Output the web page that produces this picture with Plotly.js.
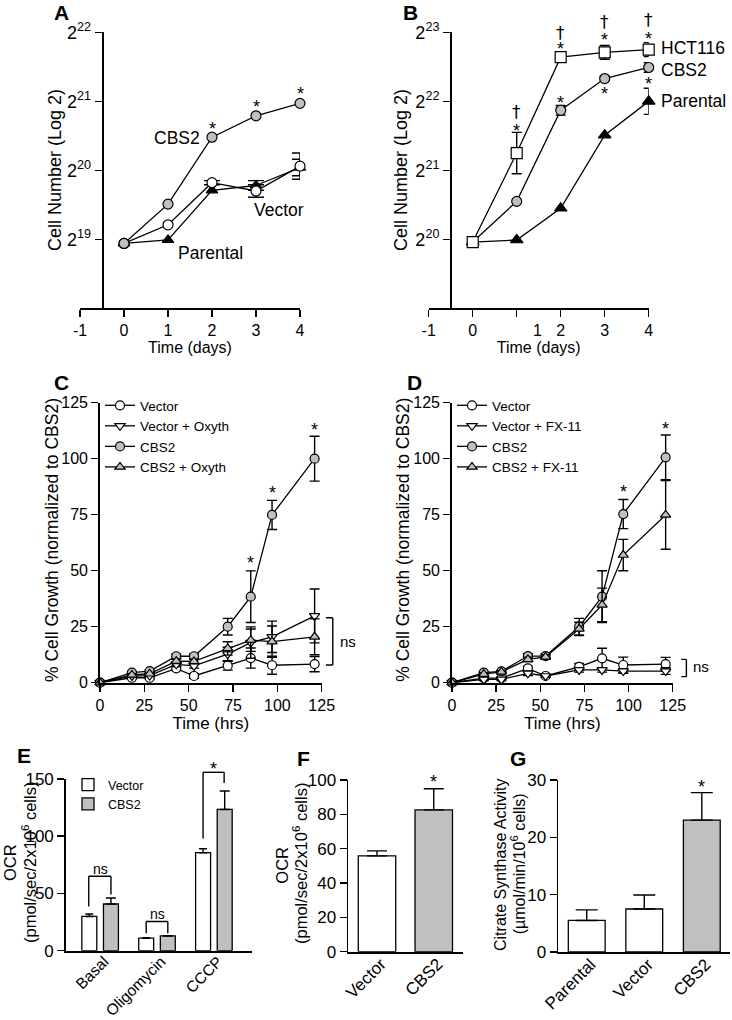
<!DOCTYPE html>
<html><head><meta charset="utf-8">
<script src="https://cdn.plot.ly/plotly-3.0.1.min.js"></script>
<style>html,body{margin:0;padding:0;background:#fff}#chart{width:732px;height:1020px}</style>
</head><body><div id="chart"></div>
<script>
// ================= DATA =================
// Panel A (values are log2 of cell number)
const daysA = [0, 1, 2, 3, 4];
const A_CBS2 = [18.94, 19.51, 20.48, 20.79, 20.97];
const A_Vector = [18.94, 19.21, 19.82, 19.70, 20.06];
const A_VectorErr = [0, 0, 0.03, 0.09, 0.19];
const A_Parental = [18.94, 18.99, 19.71, 19.78, 20.04];
const A_ParentalErr = [0, 0, 0, 0.07, 0.12];
const A_logTicks = [19, 20, 21, 22];

// Panel B
const daysB = [0, 1, 2, 3, 4];
const B_HCT116 = [19.96, 21.25, 22.64, 22.71, 22.75];
const B_HCT116Err = [0.04, 0.30, 0.03, 0.10, 0.10];
const B_CBS2 = [19.96, 20.55, 21.87, 22.33, 22.49];
const B_CBS2Err = [0, 0, 0.07, 0.03, 0.07];
const B_Parental = [19.96, 19.99, 20.45, 21.51, 22.00];
const B_ParentalErr = [0, 0, 0, 0, 0.19];
const B_logTicks = [20, 21, 22, 23];

const dayTicks = [-1, 0, 1, 2, 3, 4];
const dayTickTextA = ['-1', '0', '1', '2', '3', '4'];
const dayTickTextB = ['-1', '0', '', '2', '3', '4']; // "1" is printed off-tick in the original
const dayLabelB1 = {x: 1.48, text: '1'};

// Panels C and D (% growth normalized to CBS2)
const hrs = [0, 18, 28, 43, 53, 72, 85, 97, 121];
const hrTicks = [0, 25, 50, 75, 100, 125];
const C_Vector = [0, 2.2, 2.2, 6.4, 3.0, 7.6, 11.0, 7.8, 8.3];
const C_VectorErr = [0, 0.5, 0.5, 1, 1, 2, 4.5, 4, 3.4];
const C_VecOxy = [0, 3.0, 3.2, 8.2, 7.5, 12.8, 17.9, 20.5, 29.8];
const C_VecOxyErr = [0, 0.5, 0.5, 1, 1, 3, 7, 7, 12];
const C_CBS2 = [0, 4.5, 5.2, 11.8, 11.8, 25, 38.4, 74.9, 100];
const C_CBS2Err = [0, 0.5, 0.5, 1, 1, 3.7, 11.5, 6.5, 10];
const C_CBS2Oxy = [0, 3.5, 4.0, 9.6, 9.5, 15.3, 19.0, 18.3, 20.5];
const C_CBS2OxyErr = [0, 0.5, 0.5, 1, 1, 3, 5, 7, 8];

const D_Vector = [0, 2.0, 2.0, 6.4, 3.0, 7.1, 10.9, 7.9, 8.3];
const D_VectorErr = [0, 0.5, 0.5, 1, 0.5, 1.5, 4.5, 3.5, 3];
const D_VecFX = [0, 1.5, 1.5, 4.2, 3.0, 5.7, 5.7, 5.2, 5.2];
const D_VecFXErr = [0, 0.5, 0.5, 1, 0.5, 1, 1, 1, 1.5];
const D_CBS2 = [0, 4.5, 5.1, 11.9, 11.9, 25, 38.4, 75.3, 100.6];
const D_CBS2Err = [0, 0.5, 0.5, 1, 1, 3.7, 11.6, 6.5, 10];
const D_CBS2FX = [0, 3.8, 4.8, 10.4, 11.5, 24, 34.7, 57, 74.9];
const D_CBS2FXErr = [0, 0.5, 0.5, 1, 1, 3, 7.5, 7, 15.3];

// Panel E (OCR)
const E_cats = ['Basal', 'Oligomycin', 'CCCP'];
const E_Vector = [29.9, 10.9, 85.6];
const E_VectorErr = [2.1, 0.5, 3.5];
const E_CBS2 = [40.8, 12.9, 123.4];
const E_CBS2Err = [5.2, 0.3, 16.1];

// Panel F (OCR)
const F_cats = ['Vector', 'CBS2'];
const F_vals = [55.8, 82.6];
const F_err = [2.9, 12.3];

// Panel G (citrate synthase)
const G_cats = ['Parental', 'Vector', 'CBS2'];
const G_vals = [5.5, 7.5, 23.0];
const G_err = [1.85, 2.45, 4.8];

// ================= STYLE =================
const W = 732, H = 1020;
const FONT = 'Liberation Sans, Arial, Helvetica, sans-serif';
const GRAY = '#c0c0c0';
const px = v => v / W;
const py = v => 1 - v / H;
const nanZero = a => a.map(v => v === 0 ? NaN : v);

function sc(x, y, err, symbol, fill, xa, ya, name, legend, errW, size) {
  return {
    type: 'scatter', mode: 'lines+markers', x: x, y: y, name: name,
    xaxis: xa, yaxis: ya, cliponaxis: false,
    showlegend: !!legend, legend: legend || 'legend',
    line: {color: '#000', width: 1.3},
    marker: {symbol: symbol, size: size || 9, color: fill, line: {color: '#000', width: 1.2}},
    error_y: {type: 'data', array: nanZero(err), visible: true, color: '#000', thickness: 1.4, width: errW || 4}
  };
}
function bar(x, y, err, colors, xa, ya, width, offset, name, legend, errW) {
  const t = {
    type: 'bar', x: x, y: y, name: name, xaxis: xa, yaxis: ya, width: width,
    showlegend: !!legend, legend: legend || 'legend',
    marker: {color: colors, line: {color: '#000', width: 1.3}},
    error_y: {type: 'data', symmetric: false, array: err, arrayminus: err.map(() => 0),
              visible: true, color: '#000', thickness: 1.4, width: errW}
  };
  if (offset !== undefined) t.offset = offset;
  return t;
}

const traces = [
  // A
  sc(daysA, A_Parental, A_ParentalErr, 'triangle-up', '#000', 'x', 'y', 'Parental', null, 8, 10),
  sc(daysA, A_Vector, A_VectorErr, 'circle', '#fff', 'x', 'y', 'Vector', null, 8, 10),
  sc(daysA, A_CBS2, [0,0,0,0,0], 'circle', GRAY, 'x', 'y', 'CBS2', null, 8, 10),
  // B
  sc(daysB, B_Parental, B_ParentalErr, 'triangle-up', '#000', 'x2', 'y2', 'Parental', null, 5, 11),
  sc(daysB, B_CBS2, B_CBS2Err, 'circle', GRAY, 'x2', 'y2', 'CBS2', null, 5, 10),
  sc(daysB, B_HCT116, B_HCT116Err, 'square', '#fff', 'x2', 'y2', 'HCT116', null, 5, 11),
  // C
  sc(hrs, C_Vector, C_VectorErr, 'circle', '#fff', 'x3', 'y3', 'Vector', 'legend', 5, 9),
  sc(hrs, C_VecOxy, C_VecOxyErr, 'triangle-down', '#fff', 'x3', 'y3', 'Vector + Oxyth', 'legend', 5, 9),
  sc(hrs, C_CBS2, C_CBS2Err, 'circle', GRAY, 'x3', 'y3', 'CBS2', 'legend', 5, 9),
  sc(hrs, C_CBS2Oxy, C_CBS2OxyErr, 'triangle-up', GRAY, 'x3', 'y3', 'CBS2 + Oxyth', 'legend', 5, 9),
  // D
  sc(hrs, D_Vector, D_VectorErr, 'circle', '#fff', 'x4', 'y4', 'Vector', 'legend2', 5, 9),
  sc(hrs, D_VecFX, D_VecFXErr, 'triangle-down', '#fff', 'x4', 'y4', 'Vector + FX-11', 'legend2', 5, 9),
  sc(hrs, D_CBS2, D_CBS2Err, 'circle', GRAY, 'x4', 'y4', 'CBS2', 'legend2', 5, 9),
  sc(hrs, D_CBS2FX, D_CBS2FXErr, 'triangle-up', GRAY, 'x4', 'y4', 'CBS2 + FX-11', 'legend2', 5, 9),
  // E
  bar(E_cats, E_Vector, E_VectorErr, '#fff', 'x5', 'y5', 0.263, -0.3215, 'Vector', 'legend3', 4),
  bar(E_cats, E_CBS2, E_CBS2Err, GRAY, 'x5', 'y5', 0.263, 0.0585, 'CBS2', 'legend3', 5),
  // F
  bar(F_cats, F_vals, F_err, ['#fff', GRAY], 'x6', 'y6', 0.66, undefined, 'OCR', null, 10),
  // G
  bar(G_cats, G_vals, G_err, ['#fff', '#fff', GRAY], 'x7', 'y7', 0.64, undefined, 'CS', null, 11)
];

function axis(extra) {
  return Object.assign({
    showline: true, linecolor: '#000', linewidth: 1.8,
    ticks: 'outside', ticklen: 7, tickwidth: 1.5, tickcolor: '#000',
    showgrid: false, zeroline: false, fixedrange: true,
    tickfont: {family: FONT, size: 16, color: '#000'}
  }, extra);
}
function ttl(text, size, standoff) {
  return {text: text, font: {family: FONT, size: size, color: '#000'}, standoff: standoff};
}
const supText = v => '2<sup>' + v + '</sup>';
const catAxis = (dom, rng, anchor, cats, fs) => axis({domain: dom, range: rng, anchor: anchor, type: 'category',
    categoryorder: 'array', categoryarray: cats, ticks: '', ticklen: 0, tickangle: -45,
    ticklabelstandoff: -6, ticklabelshift: 4,
    tickfont: {family: FONT, size: fs || 17, color: '#000'}});

const layout = {
  width: W, height: H, margin: {l: 0, r: 0, t: 0, b: 0},
  paper_bgcolor: '#fff', plot_bgcolor: 'rgba(0,0,0,0)',
  font: {family: FONT, color: '#000'},
  barmode: 'overlay', showlegend: true,
  // A
  xaxis: axis({domain: [px(80), px(300)], range: [-1, 4], anchor: 'y',
    tickmode: 'array', tickvals: dayTicks, ticktext: dayTickTextA, title: ttl('Time (days)', 16, 1)}),
  yaxis: axis({domain: [py(308.3), py(32.3)], range: [18, 22], anchor: 'free', position: px(101.7),
    tickmode: 'array', tickvals: A_logTicks, ticktext: A_logTicks.map(supText),
    tickfont: {family: FONT, size: 18, color: '#000'}}),
  // B
  xaxis2: axis({domain: [px(428.7), px(648.7)], range: [-1, 4], anchor: 'y2',
    tickmode: 'array', tickvals: dayTicks, ticktext: dayTickTextB, title: ttl('Time (days)', 16, 1)}),
  yaxis2: axis({domain: [py(308.3), py(32.3)], range: [19, 23], anchor: 'free', position: px(450),
    tickmode: 'array', tickvals: B_logTicks, ticktext: B_logTicks.map(supText),
    tickfont: {family: FONT, size: 18, color: '#000'}}),
  // C
  xaxis3: axis({domain: [px(100), px(321.7)], range: [0, 125], anchor: 'y3',
    tickmode: 'array', tickvals: hrTicks, title: ttl('Time (hrs)', 17, 1)}),
  yaxis3: axis({domain: [py(682.7), py(402.7)], range: [0, 125], anchor: 'x3',
    tickmode: 'array', tickvals: hrTicks}),
  // D
  xaxis4: axis({domain: [px(452), px(672.7)], range: [0, 125], anchor: 'y4',
    tickmode: 'array', tickvals: hrTicks, title: ttl('Time (hrs)', 17, 1)}),
  yaxis4: axis({domain: [py(682.7), py(402.7)], range: [0, 125], anchor: 'x4',
    tickmode: 'array', tickvals: hrTicks}),
  // E
  xaxis5: catAxis([px(66), px(252)], [-0.6, 2.67], 'y5', E_cats, 15.5),
  yaxis5: axis({domain: [py(950.7), py(779)], range: [0, 150], anchor: 'x5', dtick: 50,
    tickfont: {family: FONT, size: 17, color: '#000'}}),
  // F
  xaxis6: catAxis([px(348.3), px(462.7)], [-0.506, 1.51], 'y6', F_cats),
  yaxis6: axis({domain: [py(951.7), py(780)], range: [0, 100], anchor: 'x6', dtick: 20,
    tickfont: {family: FONT, size: 17, color: '#000'}}),
  // G
  xaxis7: catAxis([px(558.3), px(730)], [-0.494, 2.49], 'y7', G_cats),
  yaxis7: axis({domain: [py(952), py(780)], range: [0, 30], anchor: 'x7', dtick: 10,
    tickfont: {family: FONT, size: 17, color: '#000'}}),
  legend: {x: px(100), y: py(390), xanchor: 'left', yanchor: 'top', bgcolor: 'rgba(0,0,0,0)',
    font: {family: FONT, size: 13.5, color: '#000'}, tracegroupgap: 0, itemwidth: 30},
  legend2: {x: px(452), y: py(390), xanchor: 'left', yanchor: 'top', bgcolor: 'rgba(0,0,0,0)',
    font: {family: FONT, size: 13.5, color: '#000'}, tracegroupgap: 0, itemwidth: 30},
  legend3: {x: px(68), y: py(770), xanchor: 'left', yanchor: 'top', bgcolor: 'rgba(0,0,0,0)',
    font: {family: FONT, size: 12.5, color: '#000'}, tracegroupgap: 0, itemwidth: 30},
  annotations: [], shapes: []
};

// ---------- annotations ----------
const ann = layout.annotations;
function note(xref, yref, x, y, text, o) {
  o = o || {};
  ann.push({xref: xref, yref: yref, x: x, y: y, text: text, showarrow: false,
    font: {family: o.family || FONT, size: o.size || 17, color: '#000'},
    textangle: o.angle || 0,
    xanchor: o.xanchor || 'center', yanchor: o.yanchor || 'middle',
    xshift: o.xshift || 0, yshift: o.yshift || 0});
}
const STAR = {size: 18, yshift: -4};
// panel letters
[['A', 61, 12.5], ['B', 410.5, 12.5], ['C', 61.5, 382], ['D', 414.5, 382],
 ['E', 24, 755], ['F', 303.3, 758], ['G', 518, 758]].forEach(p =>
  note('paper', 'paper', px(p[1]), py(p[2]), '<b>' + p[0] + '</b>', {size: 21}));

// y-axis titles (rotated)
[['Cell Number (Log 2)', 55, 170, 18], ['Cell Number (Log 2)', 401, 170, 18],
 ['% Cell Growth (normalized to CBS2)', 52, 540, 17.5], ['% Cell Growth (normalized to CBS2)', 402.7, 540, 17.5],
 ['OCR', 10, 863, 16.5], ['(pmol/sec/2x10<sup>6</sup> cells)', 29, 863, 16.5],
 ['OCR', 281.7, 865, 16.5], ['(pmol/sec/2x10<sup>6</sup> cells)', 300, 864, 16.5],
 ['Citrate Synthase Activity', 500, 865, 16], ['(µmol/min/10<sup>6</sup> cells)', 518.3, 864, 16]
].forEach(t => note('paper', 'paper', px(t[1]), py(t[2]), t[0], {size: t[3], angle: -90}));

// A
[[2, 20.66], [3, 20.98], [4, 21.16]].forEach(s => note('x', 'y', s[0], s[1], '*', STAR));
note('x', 'y', 1.77, 20.47, 'CBS2', {xanchor: 'right', size: 17.5});
note('x', 'y', 2.91, 19.42, 'Vector', {xanchor: 'left', size: 17.5});
note('x', 'y', 1.18, 18.80, 'Parental', {xanchor: 'left', size: 17.5});

// B
note('x2', 'paper', dayLabelB1.x, py(331), dayLabelB1.text, {size: 16});
[[1, 21.85], [2, 22.99], [3, 23, 10.4], [4, 23, 12.4]].forEach(d =>
  note('x2', 'y2', d[0], d[1], '†', {size: 17, family: 'DejaVu Sans', yshift: d[2] || 0}));
[[1, 21.63], [2, 22.82], [3, 22.94], [4, 22.96], [2, 22.03], [3, 22.17], [4, 22.31]].forEach(s =>
  note('x2', 'y2', s[0], s[1], '*', STAR));
note('x2', 'y2', 4, 22.77, 'HCT116', {xanchor: 'left', xshift: 10, size: 17.5});
note('x2', 'y2', 4, 22.46, 'CBS2', {xanchor: 'left', xshift: 10, size: 17.5});
note('x2', 'y2', 4, 22.00, 'Parental', {xanchor: 'left', xshift: 10, size: 17.5});

// C and D
[[85, 55.1], [97, 86.3], [121, 114.6]].forEach(s => note('x3', 'y3', s[0], s[1], '*', STAR));
[[97, 86.8], [121, 115]].forEach(s => note('x4', 'y4', s[0], s[1], '*', STAR));
note('x3 domain', 'y3', 1.074, 18.3, 'ns', {xanchor: 'left', size: 15});
note('x4 domain', 'y4', 1.085, 7.1, 'ns', {xanchor: 'left', size: 15});

// E, F, G
note('x5', 'y5', 0, 71.5, 'ns', {size: 14});
note('x5', 'y5', 1, 32, 'ns', {size: 14});
note('x5', 'y5 domain', 2, 1.082, '*', STAR);
note('x6', 'y6 domain', 1, 1.01, '*', STAR);
note('x7', 'y7 domain', 2, 0.984, '*', STAR);

// ---------- brackets ----------
const shp = layout.shapes;
function seg(xref, yref, x0, y0, x1, y1) {
  shp.push({type: 'line', xref: xref, yref: yref, x0: x0, y0: y0, x1: x1, y1: y1,
    line: {color: '#000', width: 1.4}});
}
function bracketUp(xref, yref, xl, xr, ytop, yl, yr) {
  seg(xref, yref, xl, ytop, xr, ytop);
  seg(xref, yref, xl, ytop, xl, yl);
  seg(xref, yref, xr, ytop, xr, yr);
}
function bracketSide(xref, yref, xl, xr, ytop, ybot) {
  seg(xref, yref, xr, ytop, xr, ybot);
  seg(xref, yref, xl, ytop, xr, ytop);
  seg(xref, yref, xl, ybot, xr, ybot);
}
bracketSide('x3 domain', 'y3', 1.019, 1.050, 29, 7.9);
bracketSide('x4 domain', 'y4', 1.039, 1.062, 10.4, 2.7);
bracketUp('x5', 'y5', -0.2, 0.19, 65, 38.7, 49);
bracketUp('x5', 'y5', 0.81, 1.19, 25.5, 15.3, 15.3);
bracketUp('x5', 'y5 domain', 1.81, 2.18, 1.039, 0.654, 0.977);

Plotly.newPlot('chart', traces, layout, {staticPlot: true, displayModeBar: false});
</script>
</body></html>
